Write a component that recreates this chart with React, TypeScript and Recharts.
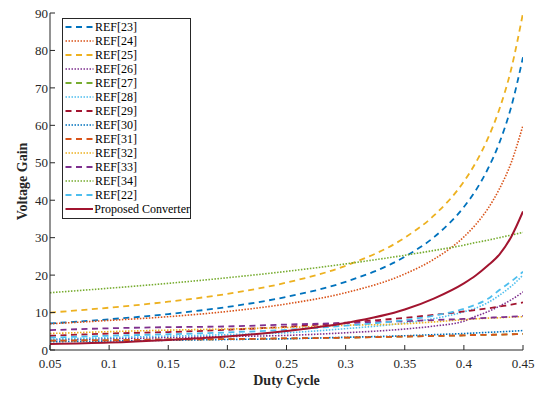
import React from 'react';
import { LineChart, Line, XAxis, YAxis } from 'recharts';

const dutyCycle = [0.05, 0.1, 0.15, 0.2, 0.25, 0.3, 0.35, 0.375, 0.4, 0.41, 0.42, 0.43, 0.44, 0.45];
const xTicks = [0.05, 0.1, 0.15, 0.2, 0.25, 0.3, 0.35, 0.4, 0.45];
const yTicks = [0, 10, 20, 30, 40, 50, 60, 70, 80, 90];

const ref23 = [7.1, 8.2, 9.6, 11.5, 14.2, 18.2, 24.9, 30.2, 38.2, 42.6, 48.2, 55.3, 64.9, 78.2];
const ref24 = [7.0, 7.9, 8.9, 10.3, 12.3, 15.3, 20.3, 24.3, 30.2, 33.5, 37.6, 43.0, 50.0, 60.0];
const ref25 = [10.0, 11.3, 12.9, 15.0, 18.0, 22.5, 30.0, 36.0, 45.0, 50.0, 56.3, 64.3, 75.0, 90.0];
const ref26 = [2.7, 3.0, 3.3, 3.6, 3.9, 4.6, 5.6, 6.4, 7.7, 9.0, 10.2, 11.7, 13.4, 15.5];
const ref27 = [2.5, 2.6, 2.8, 2.9, 3.1, 3.3, 3.6, 3.75, 3.9, 4.0, 4.05, 4.1, 4.2, 4.3];
const ref28 = [2.9, 3.3, 3.7, 4.1, 4.6, 5.7, 7.2, 8.4, 10.2, 11.2, 12.6, 14.6, 17.0, 20.0];
const ref29 = [3.8, 4.4, 4.8, 5.4, 6.2, 7.3, 8.6, 9.4, 10.3, 10.7, 11.1, 11.6, 12.1, 12.7];
const ref30 = [2.2, 2.4, 2.6, 2.8, 3.0, 3.4, 3.8, 4.1, 4.4, 4.55, 4.7, 4.85, 5.0, 5.2];
const ref31 = [2.5, 2.6, 2.8, 2.9, 3.1, 3.3, 3.6, 3.75, 3.9, 4.0, 4.05, 4.1, 4.2, 4.3];
const ref32 = [4.4, 4.9, 5.3, 5.6, 6.0, 6.6, 7.0, 7.5, 8.1, 8.3, 8.5, 8.6, 8.8, 8.9];
const ref33 = [5.3, 5.8, 6.1, 6.3, 6.8, 7.2, 7.7, 8.0, 8.3, 8.45, 8.6, 8.75, 8.9, 9.1];
const ref34 = [15.3, 16.5, 17.8, 19.3, 21.0, 23.0, 25.3, 26.6, 28.0, 28.7, 29.3, 30.0, 30.7, 31.4];
const ref22 = [3.3, 3.8, 4.2, 4.7, 5.4, 6.5, 8.0, 9.2, 11.0, 12.1, 13.6, 16.0, 18.3, 20.9];
const proposed = [1.6, 2.0, 2.7, 3.6, 5.1, 7.2, 10.8, 13.8, 17.8, 19.9, 22.5, 25.5, 30.2, 37.0];

const seriesNames = ['REF[23]', 'REF[24]', 'REF[25]', 'REF[26]', 'REF[27]', 'REF[28]', 'REF[29]', 'REF[30]', 'REF[31]', 'REF[32]', 'REF[33]', 'REF[34]', 'REF[22]', 'Proposed Converter'];
const seriesValues = [ref23, ref24, ref25, ref26, ref27, ref28, ref29, ref30, ref31, ref32, ref33, ref34, ref22, proposed];
const seriesColors = ['#0072BD', '#D95319', '#EDB120', '#7E2F8E', '#77AC30', '#4DBEEE', '#A2142F', '#0072BD', '#D95319', '#EDB120', '#7E2F8E', '#77AC30', '#4DBEEE', '#A2142F'];
const seriesStyles = ['dash', 'dot', 'dash', 'dot', 'dash', 'dot', 'dash', 'dot', 'dash', 'dot', 'dash', 'dot', 'dash', 'solid'];

const keys = seriesNames.map((_, i) => 's' + i);
const data = dutyCycle.map((d, r) => {
  const row: any = { d };
  seriesValues.forEach((vals, i) => {
    row[keys[i]] = vals[r];
  });
  return row;
});

const dashOf = (s: string) => (s === 'dash' ? '6 4.5' : s === 'dot' ? '1.5 1.5' : undefined);
const widthOf = (s: string) => (s === 'dash' ? 1.8 : s === 'dot' ? 1.6 : 2);

const FONT = '"Liberation Serif", "Times New Roman", serif';

const LegendBox = () => (
  <div
    style={{
      position: 'absolute',
      left: 62,
      top: 18,
      border: '1px solid #262626',
      background: '#fff',
      width: 127,
      padding: '1px 0 2px 0',
      fontFamily: FONT,
      fontSize: 12,
      color: '#000',
    }}
  >
    {seriesNames.map((name, i) => (
      <div key={name} style={{ display: 'flex', alignItems: 'center', height: 14, paddingLeft: 2 }}>
        <svg width={29} height={14} style={{ display: 'block' }}>
          <line
            x1={0.5}
            y1={7}
            x2={28.5}
            y2={7}
            stroke={seriesColors[i]}
            strokeWidth={widthOf(seriesStyles[i])}
            strokeDasharray={dashOf(seriesStyles[i])}
          />
        </svg>
        <span style={{ marginLeft: 1, whiteSpace: 'nowrap', lineHeight: '14px' }}>{name}</span>
      </div>
    ))}
  </div>
);

const YLabel = (props: any) => {
  const vb = props.viewBox || { y: 13, height: 337 };
  const cy = vb.y + vb.height / 2;
  return (
    <text
      x={22}
      y={cy}
      transform={`rotate(-90, 22, ${cy})`}
      textAnchor="middle"
      dominantBaseline="central"
      fontFamily={FONT}
      fontSize={14}
      fontWeight="bold"
      fill="#262626"
    >
      Voltage Gain
    </text>
  );
};

const XLabel = (props: any) => {
  const vb = props.viewBox || { x: 50, width: 473 };
  const cx = vb.x + vb.width / 2;
  return (
    <text x={cx} y={385} textAnchor="middle" fontFamily={FONT} fontSize={14} fontWeight="bold" fill="#262626">
      Duty Cycle
    </text>
  );
};

export default function App() {
  return (
    <div style={{ position: 'absolute', left: 0, top: 0, width: 548, height: 393, background: '#fff' }}>
      <LineChart width={548} height={393} data={data} margin={{ top: 13, right: 25, left: 0, bottom: 0 }}>
        <XAxis
          dataKey="d"
          type="number"
          domain={[0.05, 0.45]}
          ticks={xTicks}
          allowDataOverflow
          height={43}
          tickSize={-5}
          tickMargin={14}
          tickFormatter={(v: number) => String(v)}
          tick={{ fontFamily: FONT, fontSize: 13, fill: '#262626' }}
          axisLine={{ stroke: '#262626', strokeWidth: 1 }}
          tickLine={{ stroke: '#262626', strokeWidth: 1 }}
          label={<XLabel />}
        />
        <YAxis
          type="number"
          domain={[0, 90]}
          ticks={yTicks}
          allowDataOverflow
          width={50}
          tickSize={-5}
          tickMargin={7}
          tick={{ fontFamily: FONT, fontSize: 13, fill: '#262626' }}
          axisLine={{ stroke: '#262626', strokeWidth: 1 }}
          tickLine={{ stroke: '#262626', strokeWidth: 1 }}
          label={<YLabel />}
        />
        {keys.map((k, i) => (
          <Line
            key={k}
            dataKey={k}
            name={seriesNames[i]}
            type="monotone"
            stroke={seriesColors[i]}
            strokeWidth={widthOf(seriesStyles[i])}
            strokeDasharray={dashOf(seriesStyles[i])}
            dot={false}
            activeDot={false}
            isAnimationActive={false}
          />
        ))}
      </LineChart>
      <LegendBox />
    </div>
  );
}
